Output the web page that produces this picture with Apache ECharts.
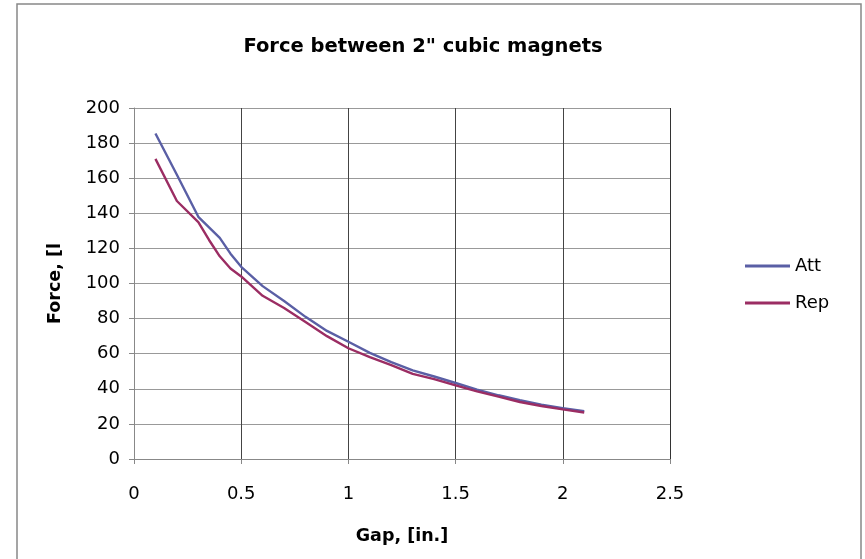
<!DOCTYPE html>
<html>
<head>
<meta charset="utf-8">
<script src="https://cdn.jsdelivr.net/npm/echarts@6/dist/echarts.min.js"></script>
<style>
  html, body { margin: 0; padding: 0; background: #fff; }
  #chart { width: 865px; height: 559px; }
</style>
</head>
<body>
<div id="chart"></div>
<script>
// gap in inches
var gaps = [0.1, 0.2, 0.3, 0.35, 0.4, 0.45, 0.5, 0.6, 0.7, 0.8, 0.9, 1.0, 1.1, 1.2, 1.3, 1.4, 1.5, 1.6, 1.7, 1.8, 1.9, 2.0, 2.1];
// force, lb
var att = [185.5, 162, 138, 132, 126, 117, 109.5, 98.5, 90, 81, 73, 66.8, 60.5, 55.2, 50.5, 47, 43.3, 39.5, 36.3, 33.5, 31, 29, 27.3];
var rep = [171, 147, 135, 124.8, 115.5, 108.5, 104, 93, 86, 78, 70, 63.1, 58, 53.5, 48.5, 45.5, 42, 38.5, 35.5, 32.5, 30.2, 28.3, 26.5];
var seriesNames = ['Att', 'Rep'];
var xTicks = [0, 0.5, 1, 1.5, 2, 2.5];
var yTicks = [0, 20, 40, 60, 80, 100, 120, 140, 160, 180, 200];

var font = 'DejaVu Sans';
var pairs = function(ys) {
	return gaps.map(function(g, i) { return [g, ys[i]]; });
};

var myChart = echarts.init(document.getElementById('chart'));
var option = {
	animation: false,
	backgroundColor: '#fff',
	title: {
		text: 'Force between 2" cubic magnets',
		left: 418,
		top: 32,
		textAlign: 'center',
		textStyle: { fontFamily: font, fontWeight: 'bold', fontSize: 19.5, color: '#000' }
	},
	grid: { left: 134, right: 195, top: 108, bottom: 100 },
	legend: {
		orient: 'vertical',
		left: 740,
		top: 252,
		itemWidth: 45,
		itemHeight: 3,
		itemGap: 19,
		icon: 'rect',
		textStyle: { fontFamily: font, fontSize: 18, color: '#000' },
		data: seriesNames
	},
	xAxis: {
		type: 'value',
		min: xTicks[0],
		max: xTicks[xTicks.length - 1],
		interval: 0.5,
		name: 'Gap, [in.]',
		nameLocation: 'middle',
		nameGap: 68,
		nameTextStyle: { fontFamily: font, fontWeight: 'bold', fontSize: 17.5, color: '#000' },
		axisLine: { onZero: false, lineStyle: { color: '#888', width: 1 } },
		axisTick: { show: true, length: 5, lineStyle: { color: '#888' } },
		axisLabel: { margin: 26, fontFamily: font, fontSize: 18, color: '#000' },
		splitLine: { show: true, lineStyle: { color: ['#888', '#444', '#444', '#444', '#444', '#333'], width: 1 } }
	},
	yAxis: {
		type: 'value',
		min: yTicks[0],
		max: yTicks[yTicks.length - 1],
		interval: 20,
		name: 'Force, [lb]',
		nameLocation: 'middle',
		nameGap: 70,
		nameTruncate: { maxWidth: 92, ellipsis: '' },
		nameTextStyle: { fontFamily: font, fontWeight: 'bold', fontSize: 17.5, color: '#000' },
		axisLine: { show: true, lineStyle: { color: '#888', width: 1 } },
		axisTick: { show: true, length: 5, lineStyle: { color: '#888' } },
		axisLabel: { margin: 14, fontFamily: font, fontSize: 18, color: '#000' },
		splitLine: { show: true, lineStyle: { color: '#999', width: 1 } }
	},
	graphic: [{
		type: 'rect',
		shape: { x: 17, y: 4, width: 844, height: 600 },
		style: { fill: 'none', stroke: '#888', lineWidth: 1.5 },
		silent: true
	}],
	series: [
		{
			name: seriesNames[0],
			type: 'line',
			data: pairs(att),
			showSymbol: false,
			symbol: 'none',
			lineStyle: { color: '#5A5FA5', width: 2.4 },
			itemStyle: { color: '#5A5FA5' }
		},
		{
			name: seriesNames[1],
			type: 'line',
			data: pairs(rep),
			showSymbol: false,
			symbol: 'none',
			lineStyle: { color: '#9B2D63', width: 2.4 },
			itemStyle: { color: '#9B2D63' }
		}
	]
};
myChart.setOption(option);
</script>
</body>
</html>
